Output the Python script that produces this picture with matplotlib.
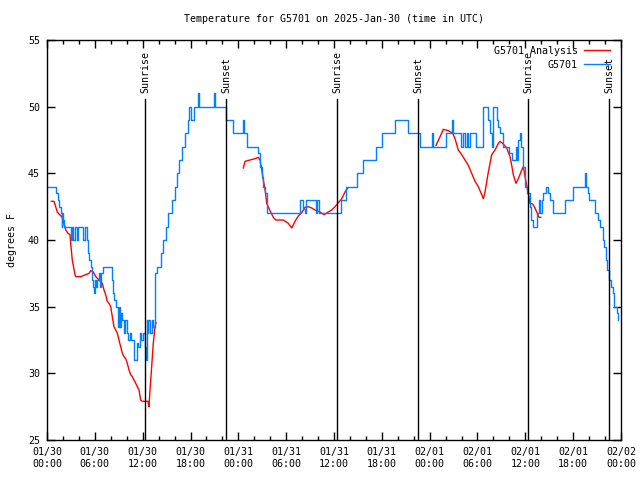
import numpy as np
import matplotlib
matplotlib.use("Agg")
import matplotlib.pyplot as plt
from matplotlib.ticker import MultipleLocator, FixedLocator

# ---- data (hours since 2025-01-30 00:00 UTC) ----
blue_h = [0.00, 1.09, 1.32, 1.51, 1.72, 1.82, 1.92, 2.01, 2.13, 2.97, 3.17, 3.32, 3.45, 3.76, 3.89,
          4.55, 4.73, 5.06, 5.18, 5.33, 5.48, 5.61, 5.81, 5.93, 6.06, 6.18, 6.31, 6.52, 6.65, 6.77,
          7.06, 8.19, 8.32, 8.44, 8.62, 8.94, 9.03, 9.16, 9.28, 9.41, 9.66, 9.78, 10.04, 10.22, 10.41,
          10.54, 10.91, 11.25, 11.42, 11.67, 11.85, 12.04, 12.23, 12.38, 12.51, 12.61, 12.73, 12.92,
          13.11, 13.30, 13.55, 13.76, 14.30, 14.59, 14.93, 15.22, 15.64, 16.06, 16.27, 16.60, 16.90,
          17.31, 17.69, 17.87, 18.00, 18.44, 18.94, 19.07, 20.89, 21.07, 22.45, 23.37, 24.59, 24.71,
          25.13, 26.51, 26.72, 26.93, 27.13, 27.35, 27.56, 27.63, 31.74, 32.15, 32.36, 32.53, 32.78,
          33.74, 33.93, 34.06, 36.84, 37.51, 38.92, 39.68, 41.23, 41.99, 43.65, 45.28, 46.79, 48.29,
          48.48, 50.01, 50.84, 50.97, 51.89, 52.14, 52.37, 52.65, 52.81, 53.06, 53.81, 54.65, 55.36,
          55.57, 55.78, 55.98, 56.41, 56.61, 56.82, 57.24, 57.95, 58.28, 58.83, 58.96, 59.12, 59.33,
          59.46, 59.71, 59.96, 60.21, 60.58, 60.77, 61.00, 61.43, 61.71, 61.84, 62.05, 62.26, 62.59,
          62.88, 63.10, 63.51, 64.98, 65.94, 67.49, 67.61, 67.80, 67.99, 68.74, 69.15, 69.37, 69.70,
          69.87, 70.12, 70.25, 70.50, 70.75, 71.00, 71.16, 71.46, 71.66]
blue_v = [44, 43.5, 43, 42.5, 42, 41, 42, 41.5, 41, 40, 41, 40, 41, 40, 41,
          40, 41, 40, 39, 38.5, 38, 37, 36.5, 36, 37, 36.5, 37, 37.5, 36.5, 37.5,
          38, 37, 36, 35.5, 35, 33.5, 35, 33.5, 34.5, 34, 33, 34, 33, 32.5, 33,
          32.5, 31, 32.3, 32, 33, 32.5, 33, 32, 31, 34, 33, 34, 33,
          34, 33.5, 37.5, 38, 39, 40, 41, 42, 43, 44, 45, 46, 47,
          48, 49, 50, 49, 50, 51, 50, 51, 50, 49, 48, 49, 48,
          47, 46.5, 45.5, 44.75, 44, 43.5, 42.75, 42, 43, 42.3, 42, 43, 43,
          42, 43, 42, 43, 44, 45, 46, 47, 48, 49, 48, 47, 48,
          47, 48, 49, 48, 47, 48, 47, 48, 47, 48, 47, 50, 49,
          48, 47, 50, 49, 48.5, 48, 47, 46.5, 46, 47, 46, 47.5, 48,
          47, 45.5, 44, 43.5, 42.5, 41.5, 41, 42, 43, 42, 43, 43.5, 44,
          43.5, 43, 42, 43, 44, 45, 44, 43.5, 43, 42, 41.5, 41, 40,
          39.5, 38.5, 37.75, 37, 36.5, 36, 35, 34.5, 34]

red_h = [0.54, 0.88, 1.09, 1.29, 1.51, 1.92, 2.13, 2.35, 2.63, 2.89, 2.97, 3.17, 3.51, 3.60, 4.23,
         4.85, 5.27, 5.48, 5.81, 6.11, 6.52, 6.94, 7.15, 7.36, 7.56, 7.78, 7.99, 8.19, 8.40, 8.62,
         8.82, 9.03, 9.24, 9.45, 9.66, 9.87, 10.07, 10.29, 10.50, 10.70, 10.91, 11.13, 11.33, 11.54,
         11.75, 11.95, 12.38, 12.67, 12.79, 12.92, 13.13, 13.33, 13.55, 13.67,
         np.nan,
         24.62, 24.84, 25.46, 26.09, 26.51, 26.72, 26.93, 27.13, 27.35, 27.56, 27.97, 28.39, 28.69,
         29.64, 30.27, 30.69, 31.11, 31.52, 31.95, 32.36, 32.78, 33.20, 33.62, 34.24, 34.75, 35.29,
         35.71, 36.13, 36.54, 36.97, 37.38, 37.72,
         np.nan,
         48.80, 49.30, 49.71, 50.34, 50.89, 51.18, 51.59, 52.02, 52.43, 52.85, 53.27, 53.69, 54.10,
         54.53, 54.73, 54.94, 55.36, 55.78, 56.20, 56.61, 56.82, 57.24, 57.66, 58.08, 58.29, 58.49,
         58.83, 59.12, 59.55, 59.75, 59.96, 60.17, 60.37, 60.58, 60.91, 61.21, 61.50, 61.72, 61.93]
red_v = [42.9, 42.9, 42.5, 42.1, 41.95, 41.7, 41.25, 40.75, 40.5, 40.4, 39.75, 38.5, 37.4, 37.25, 37.25,
         37.4, 37.5, 37.7, 37.6, 37.25, 37, 36.75, 36.25, 35.9, 35.4, 35.25, 35, 34.25, 33.5, 33.25,
         33, 32.5, 32, 31.5, 31.25, 31.1, 30.75, 30.25, 29.9, 29.75, 29.5, 29.25, 29, 28.75,
         28, 27.9, 27.9, 27.9, 27.5, 28.75, 30.5, 32.25, 33.5, 33.8,
         np.nan,
         45.4, 45.9, 46, 46.1, 46.2, 46, 45.3, 44.5, 43.8, 42.75, 42.2, 41.7, 41.5,
         41.5, 41.25, 40.9, 41.4, 41.8, 42.05, 42.45, 42.5, 42.4, 42.25, 42.1, 41.9, 42.1,
         42.25, 42.5, 42.8, 43.1, 43.6, 43.9,
         np.nan,
         47.1, 47.75, 48.3, 48.2, 48, 47.6, 46.75, 46.4, 46, 45.6, 45, 44.4, 44,
         43.4, 43.1, 43.6, 45.1, 46.4, 46.75, 47.25, 47.4, 47.2, 46.9, 46.25, 45.6, 44.9,
         44.25, 44.6, 45.25, 45.5, 44.75, 44.1, 43.5, 42.75, 42.7, 42.4, 42, 41.7, 41.7]

sun_h = [12.29, 22.45, 36.38, 46.54, 60.34, 70.50]
sun_lbl = ["Sunrise", "Sunset", "Sunrise", "Sunset", "Sunrise", "Sunset"]

xtick_h = [0, 6, 12, 18, 24, 30, 36, 42, 48, 54, 60, 66, 72]
xtick_lbl = ["01/30\n00:00", "01/30\n06:00", "01/30\n12:00", "01/30\n18:00",
             "01/31\n00:00", "01/31\n06:00", "01/31\n12:00", "01/31\n18:00",
             "02/01\n00:00", "02/01\n06:00", "02/01\n12:00", "02/01\n18:00",
             "02/02\n00:00"]
ytick_v = [25, 30, 35, 40, 45, 50, 55]

title = "Temperature for G5701 on 2025-Jan-30 (time in UTC)"

# ---- plot ----
FONT = "DejaVu Sans Mono"
FS = 7.2
plt.rcParams["font.family"] = [FONT]
plt.rcParams["font.size"] = FS

fig = plt.figure(figsize=(6.4, 4.8), dpi=100)
ax = fig.add_axes([47/640, 40/480, 574/640, 400/480])

ax.plot(red_h, red_v, color="#ff0000", lw=1.0, label="G5701 Analysis")
ax.plot(blue_h, blue_v, color="#0080ff", lw=1.0, drawstyle="steps-post", label="G5701")

for h, lbl in zip(sun_h, sun_lbl):
    ax.axvline(h, ymin=0, ymax=0.8525, color="black", lw=1.0)
    ax.text(h, 0.8675, lbl, rotation=90, ha="center", va="bottom",
            transform=ax.get_xaxis_transform(), fontsize=FS)

ax.set_xlim(0, 72)
ax.set_ylim(25, 55)
ax.xaxis.set_major_locator(FixedLocator(xtick_h))
ax.set_xticklabels(xtick_lbl)
ax.xaxis.set_minor_locator(MultipleLocator(2))
ax.yaxis.set_major_locator(FixedLocator(ytick_v))
ax.tick_params(axis="both", which="both", direction="in", top=True, right=True, width=1.0)
ax.tick_params(axis="both", which="major", length=6, pad=5)
ax.tick_params(axis="x", which="minor", length=3)
for s in ax.spines.values():
    s.set_linewidth(1.0)

ax.set_ylabel("degrees F", fontsize=FS, labelpad=8)
fig.text(334/640, 1 - 19/480, title, ha="center", va="center", fontsize=FS)

leg = ax.legend(loc="upper right", bbox_to_anchor=(1 - 7/574, 1 - 2/400),
                frameon=False, markerfirst=False, fontsize=FS,
                handlelength=2.6, handletextpad=0.6, labelspacing=0.4,
                borderaxespad=0.2, borderpad=0.2)

fig.savefig("out.png", dpi=100)
